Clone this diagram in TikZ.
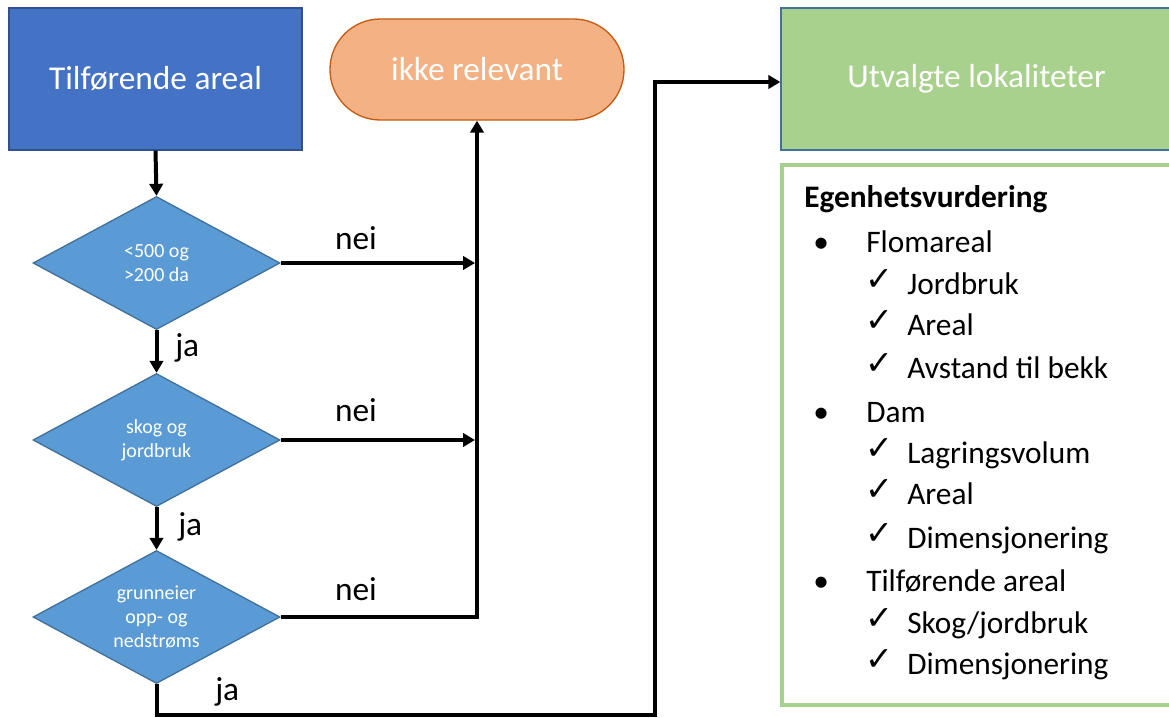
\documentclass[tikz,border=0pt]{standalone}
\usepackage{fontspec}
\setmainfont{Carlito}
\newfontfamily\symfont{DejaVu Sans}
\usetikzlibrary{shapes.geometric,arrows.meta}
\definecolor{boxblue}{HTML}{4472C4}
\definecolor{boxblueline}{HTML}{2F528F}
\definecolor{diafill}{HTML}{5B9BD5}
\definecolor{dialine}{HTML}{41719C}
\definecolor{termfill}{HTML}{F4B183}
\definecolor{termline}{HTML}{C55A11}
\definecolor{greenfill}{HTML}{A9D18E}
\begin{document}
\begin{tikzpicture}[x=0.75pt,y=-0.75pt,
  bigtxt/.style={font=\fontsize{25}{30}\selectfont},
  boxnode/.style={rectangle, draw, line width=1pt, text=white, bigtxt, inner sep=0pt},
  dia/.style={diamond, draw=dialine, fill=diafill, line width=1pt, aspect=1.85,
    minimum width=185.25pt, minimum height=99.75pt, inner sep=0pt, text=white,
    align=center, font=\fontsize{15}{18}\selectfont},
  conn/.style={line width=3pt},
  arr/.style={line width=3pt, -{Triangle[length=9pt,width=10pt]}},
  lbl/.style={bigtxt, anchor=base, inner sep=0pt},
  item/.style={anchor=base west, inner sep=0pt, font=\fontsize{23.5}{28}\selectfont},
  chk/.style={anchor=base west, inner sep=0pt, font=\symfont\fontsize{25}{28}\selectfont}
]
\useasboundingbox (0,0) rectangle (1169,717);

% main shapes
\node[boxnode, draw=boxblueline, fill=boxblue, minimum width=219.75pt, minimum height=106.5pt] (tilf) at (155.5,79) {Tilførende areal};
\node[boxnode, draw=termline, fill=termfill, rounded corners=37.8pt, minimum width=220.5pt, minimum height=75.75pt] (ikke) at (477,69.5) {ikke relevant};
\node[boxnode, draw=dialine, fill=greenfill, minimum width=293.25pt, minimum height=106.5pt] (utv) at (976.5,79) {Utvalgte lokaliteter};
\node[rectangle, draw=greenfill, line width=3.5pt, fill=white, minimum width=294.75pt, minimum height=405pt, inner sep=0pt] (list) at (978.5,435) {};

\node[dia] (d1) at (156.5,263) {<500 og\\>200 da};
\node[dia] (d2) at (156.5,440) {skog og\\jordbruk};
\node[dia] (d3) at (156.5,617) {grunneier\\opp- og\\nedstrøms};

% connectors
\draw[arr] (tilf.south) -- (d1.north);
\draw[arr] (d1.south) -- (d2.north);
\draw[arr] (d2.south) -- (d3.north);
\draw[arr, shorten >=1.5pt] (d1.east) -- (d1.east -| ikke.south);
\draw[arr, shorten >=1.5pt] (d2.east) -- (d2.east -| ikke.south);
\draw[arr] (d3.east) -| (ikke.south);
\coordinate (k1) at (156.5,715);
\coordinate (k2) at (655,715);
\coordinate (k3) at (655,82);
\draw[arr] (d3.south) -- (k1) -- (k2) -- (k3) -- (k3 -| utv.west);

% labels
\node[lbl] (n1) at (356,249) {nei};
\node[lbl] (n2) at (356,421) {nei};
\node[lbl] (n3) at (356,600) {nei};
\node[lbl, anchor=base west] (j1) at (175,356) {ja};
\node[lbl, anchor=base west] (j2) at (178,535) {ja};
\node[lbl, anchor=base west] (j3) at (215,700) {ja};

% list
\node[item, font=\bfseries\fontsize{23.5}{28}\selectfont] (hdr) at (804,207) {Egenhetsvurdering};
\node[item] (b1) at (813,252) {\textbullet};
\node[item] (i1) at (866,252) {Flomareal};
\node[chk] (c11) at (865,290) {✓};
\node[item] (i11) at (907,294) {Jordbruk};
\node[chk] (c12) at (865,331) {✓};
\node[item] (i12) at (907,335) {Areal};
\node[chk] (c13) at (865,374) {✓};
\node[item] (i13) at (907,378) {Avstand til bekk};
\node[item] (b2) at (813,422) {\textbullet};
\node[item] (i2) at (866,422) {Dam};
\node[chk] (c21) at (865,459) {✓};
\node[item] (i21) at (907,463) {Lagringsvolum};
\node[chk] (c22) at (865,500) {✓};
\node[item] (i22) at (907,504) {Areal};
\node[chk] (c23) at (865,544) {✓};
\node[item] (i23) at (907,548) {Dimensjonering};
\node[item] (b3) at (813,591) {\textbullet};
\node[item] (i3) at (866,591) {Tilførende areal};
\node[chk] (c31) at (865,629) {✓};
\node[item] (i31) at (907,633) {Skog/jordbruk};
\node[chk] (c32) at (865,670) {✓};
\node[item] (i32) at (907,674) {Dimensjonering};
\end{tikzpicture}
\end{document}
